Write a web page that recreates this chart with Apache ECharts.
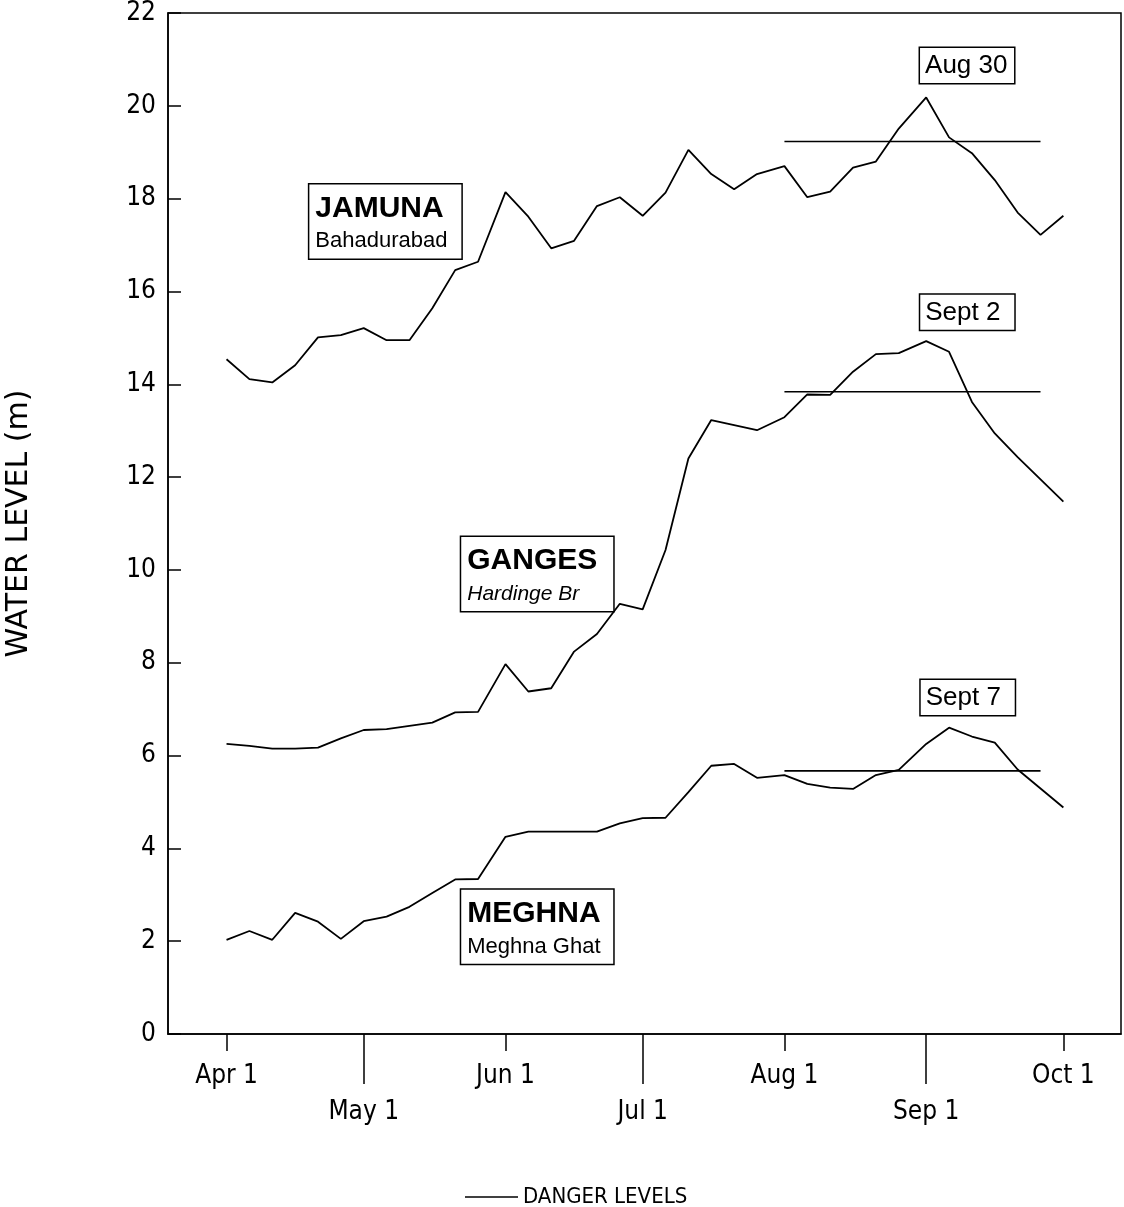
<!DOCTYPE html>
<html>
<head>
<meta charset="utf-8">
<script src="https://cdn.jsdelivr.net/npm/echarts@6/dist/echarts.min.js"></script>
<style>html,body{margin:0;padding:0;background:#fff}#c{width:1124px;height:1207px}</style>
</head>
<body>
<div id="c"></div>
<script>
// ---- data ----
const sampleDates = [
  'Apr 1','Apr 6','Apr 11','Apr 16','Apr 21','Apr 26',
  'May 1','May 6','May 11','May 16','May 21','May 26',
  'Jun 1','Jun 6','Jun 11','Jun 16','Jun 21','Jun 26',
  'Jul 1','Jul 6','Jul 11','Jul 16','Jul 21','Jul 26',
  'Aug 1','Aug 6','Aug 11','Aug 16','Aug 21','Aug 26',
  'Sep 1','Sep 6','Sep 11','Sep 16','Sep 21','Sep 26',
  'Oct 1'
];
const jamuna = [
  14.54,14.11,14.04,14.41,15.01,15.06,
  15.21,14.95,14.95,15.64,16.46,16.64,
  18.14,17.61,16.93,17.09,17.84,18.03,
  17.63,18.13,19.05,18.53,18.20,18.53,
  18.70,18.03,18.15,18.67,18.80,19.51,
  20.18,19.32,18.98,18.40,17.70,17.22,
  17.63
];
const ganges = [
  6.25,6.21,6.15,6.15,6.17,6.37,
  6.55,6.57,6.64,6.71,6.93,6.94,
  7.97,7.38,7.45,8.24,8.62,9.27,
  9.15,10.43,12.40,13.23,13.12,13.01,
  13.29,13.78,13.77,14.27,14.65,14.67,
  14.93,14.70,13.62,12.94,12.43,11.95,
  11.47
];
const meghna = [
  2.03,2.22,2.03,2.61,2.42,2.05,
  2.43,2.53,2.74,3.04,3.33,3.34,
  4.25,4.36,4.36,4.36,4.36,4.54,
  4.65,4.66,5.21,5.78,5.82,5.52,
  5.58,5.39,5.31,5.28,5.58,5.69,
  6.25,6.60,6.41,6.28,5.70,5.29,
  4.88
];
const dangerLevels = [19.23, 13.84, 5.67];   // Jamuna, Ganges, Meghna
const dangerSpan = ['Aug 1', 'Sep 26'];
const ticksUpper = ['Apr 1','Jun 1','Aug 1','Oct 1'];
const ticksLower = ['May 1','Jul 1','Sep 1'];
const yTicks = [0,2,4,6,8,10,12,14,16,18,20,22];

// ---- helpers ----
const MONTHS = {Jan:0,Feb:1,Mar:2,Apr:3,May:4,Jun:5,Jul:6,Aug:7,Sep:8,Oct:9,Nov:10,Dec:11};
function dayOf(lbl){
  const [m,d] = lbl.split(' ');
  return (Date.UTC(1988, MONTHS[m], +d) - Date.UTC(1988, 3, 1)) / 864e5;
}
const labelByDay = {};
ticksUpper.concat(ticksLower).forEach(l => labelByDay[dayOf(l)] = l);
const xs = sampleDates.map(dayOf);
const pair = arr => arr.map((v,i) => [xs[i], v]);

const NARROW = "'Liberation Sans Narrow','DejaVu Sans Condensed',sans-serif";
const SANS = "'Liberation Sans',Arial,sans-serif";

const riverLine = (name, arr) => ({
  name, type:'line', data: pair(arr), showSymbol:false, silent:true,
  lineStyle:{color:'#000', width:1.8}, itemStyle:{color:'#000'}
});
const dangerLine = v => ({
  name:'DANGER LEVELS', type:'line', silent:true, showSymbol:false,
  data: dangerSpan.map(d => [dayOf(d), v]),
  lineStyle:{color:'#000', width:1.6}, itemStyle:{color:'#000'}
});

const boxLabel = {
  show:true, position:'inside', backgroundColor:'#fff', borderColor:'#000', borderWidth:1.5,
  color:'#000', align:'left', opacity:1,
  rich:{
    t:{fontFamily:SANS, fontSize:30, fontWeight:'bold', lineHeight:40, color:'#000'},
    s:{fontFamily:SANS, fontSize:22, lineHeight:26, color:'#000'},
    si:{fontFamily:SANS, fontSize:21, fontStyle:'italic', lineHeight:26, color:'#000'},
    d:{fontFamily:SANS, fontSize:26, lineHeight:27, color:'#000'}
  }
};
const nameBox = {padding:[4,6], width:140, offset:[-77,0]};
const dateBox = {padding:[4,5], width:84, offset:[-48,0]};

const chart = echarts.init(document.getElementById('c'), null, {renderer:'canvas'});
chart.setOption({
  animation:false,
  backgroundColor:'#fff',
  grid:{left:168, right:3, top:13, bottom:173, show:true, borderColor:'#000', borderWidth:1.5,
        containLabel:false, outerBoundsMode:'none'},
  legend:{
    data:['DANGER LEVELS'], left:460, top:1181, icon:'rect', itemWidth:53, itemHeight:1.5,
    selectedMode:false, textStyle:{fontFamily:NARROW, fontSize:22, color:'#000'}
  },
  xAxis:[
    {type:'value', min:-12.8, max:195.6, splitLine:{show:false},
     axisLine:{show:true, onZero:false, lineStyle:{color:'#000', width:1.5}},
     axisTick:{show:true, inside:false, length:17, lineStyle:{color:'#000', width:1.5},
               customValues: ticksUpper.map(dayOf)},
     axisLabel:{show:true, margin:29, customValues: ticksUpper.map(dayOf),
                formatter:v => labelByDay[v] || '', color:'#000', fontFamily:NARROW, fontSize:26}},
    {type:'value', min:-12.8, max:195.6, position:'bottom', splitLine:{show:false},
     axisLine:{show:false, onZero:false},
     axisTick:{show:true, inside:false, length:50, lineStyle:{color:'#000', width:1.5},
               customValues: ticksLower.map(dayOf)},
     axisLabel:{show:true, margin:65, customValues: ticksLower.map(dayOf),
                formatter:v => labelByDay[v] || '', color:'#000', fontFamily:NARROW, fontSize:26}}
  ],
  yAxis:{
    type:'value', min:yTicks[0], max:yTicks[yTicks.length-1], interval:2, splitLine:{show:false},
    name:'WATER LEVEL (m)', nameLocation:'middle', nameGap:134, nameRotate:90,
    nameTextStyle:{fontFamily:"'DejaVu Sans',sans-serif", fontSize:30, color:'#000'},
    axisLine:{show:true, onZero:false, lineStyle:{color:'#000', width:1.5}},
    axisTick:{show:true, inside:true, length:13, lineStyle:{color:'#000', width:1.5}},
    axisLabel:{margin:12, color:'#000', fontFamily:NARROW, fontSize:26}
  },
  series:[
    riverLine('Jamuna', jamuna),
    riverLine('Ganges', ganges),
    riverLine('Meghna', meghna),
    dangerLine(dangerLevels[0]),
    dangerLine(dangerLevels[1]),
    dangerLine(dangerLevels[2]),
    {
      name:'notes', type:'scatter', silent:true, symbolSize:1,
      itemStyle:{color:'rgba(0,0,0,0)', opacity:1},
      label:boxLabel, z:5,
      data:[
        {value:[34.95,17.51], label:Object.assign({formatter:'{t|JAMUNA}\n{s|Bahadurabad}'}, nameBox)},
        {value:[68.16,9.91], label:Object.assign({formatter:'{t|GANGES}\n{si|Hardinge Br}'}, nameBox)},
        {value:[68.16,2.31], label:Object.assign({formatter:'{t|MEGHNA}\n{s|Meghna Ghat}'}, nameBox)},
        {value:[162.15,20.87], label:Object.assign({formatter:'{d|Aug 30}'}, dateBox)},
        {value:[162.2,15.55], label:Object.assign({formatter:'{d|Sept 2}'}, dateBox)},
        {value:[162.3,7.25], label:Object.assign({formatter:'{d|Sept 7}'}, dateBox)}
      ]
    }
  ]
});
</script>
</body>
</html>
